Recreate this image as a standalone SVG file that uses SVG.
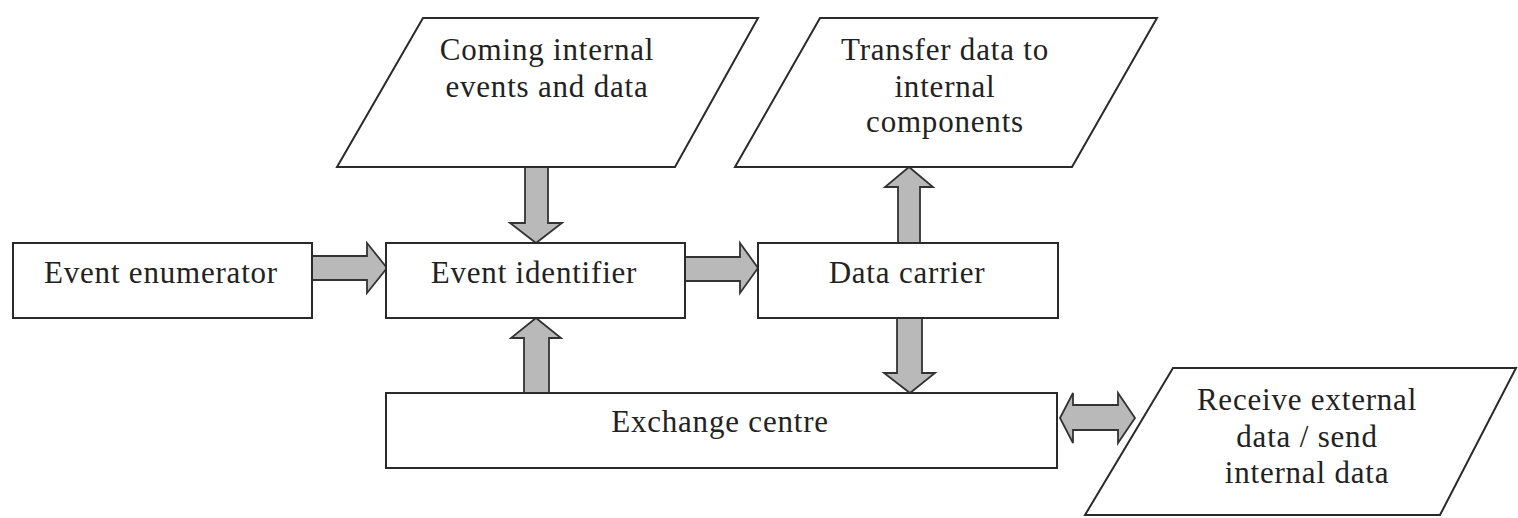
<svg xmlns="http://www.w3.org/2000/svg" width="1518" height="518" viewBox="0 0 1518 518">
<style>
.box{fill:#fff;stroke:#2a2a2a;stroke-width:2}
.arr{fill:#b9b9b9;stroke:#333;stroke-width:1.8;stroke-linejoin:miter}
text{font-family:"Liberation Serif","Times New Roman",serif;font-size:31px;letter-spacing:0.8px;fill:#222;text-anchor:middle}
</style>
<rect width="1518" height="518" fill="#fff"/>
<g id="connectors">
<polygon class="arr" points="312,256 367,256 367,243 387,268 367,293 367,280 312,280"/>
<polygon class="arr" points="685,257 740,257 740,243 758,268 740,293 740,281 685,281"/>
<polygon class="arr" points="525,167 548,167 548,223 562,223 536,243 510,223 525,223"/>
<polygon class="arr" points="898,243 920,243 920,187 933,187 909,167 885,187 898,187"/>
<polygon class="arr" points="524,393 549,393 549,338 561,338 536,318 511,338 524,338"/>
<polygon class="arr" points="897,318 922,318 922,373 935,373 910,393 884,373 897,373"/>
<polygon class="arr" points="1060,418 1073,393 1073,405 1118,405 1118,393 1135,418 1118,443 1118,430 1073,430 1073,443"/>
</g>
<g id="event-enumerator">
<rect class="box" x="13" y="243" width="299" height="75"/>
<text x="161" y="283">Event enumerator</text>
</g>
<g id="event-identifier">
<rect class="box" x="386" y="243" width="299" height="75"/>
<text x="534" y="283">Event identifier</text>
</g>
<g id="data-carrier">
<rect class="box" x="758" y="243" width="300" height="75"/>
<text x="907" y="283">Data carrier</text>
</g>
<g id="exchange-centre">
<rect class="box" x="386" y="393" width="671" height="75"/>
<text x="720" y="432">Exchange centre</text>
</g>
<g id="coming-internal">
<polygon class="box" points="423,18 758,18 675,167 337,167"/>
<text x="547" y="60">Coming internal</text>
<text x="547" y="97">events and data</text>
</g>
<g id="transfer-data">
<polygon class="box" points="820,18 1157,18 1072,167 735,167"/>
<text x="945" y="60">Transfer data to</text>
<text x="945" y="97">internal</text>
<text x="945" y="132">components</text>
</g>
<g id="receive-external">
<polygon class="box" points="1173,368 1516,368 1440,515 1085,515"/>
<text x="1307" y="410">Receive external</text>
<text x="1307" y="447">data / send</text>
<text x="1307" y="483">internal data</text>
</g>
</svg>
